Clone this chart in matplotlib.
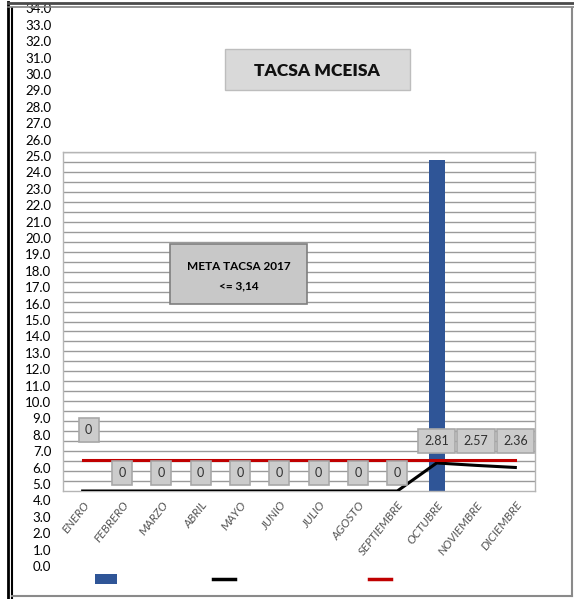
import matplotlib
matplotlib.use("Agg")
import matplotlib.pyplot as plt
from matplotlib.patches import Rectangle, Patch
from matplotlib.lines import Line2D
import numpy as np

# ---------------- data ----------------
months = ["ENERO", "FEBRERO", "MARZO", "ABRIL", "MAYO", "JUNIO", "JULIO",
          "AGOSTO", "SEPTIEMBRE", "OCTUBRE", "NOVIEMBRE", "DICIEMBRE"]
monthly_tacsa = [0, 0, 0, 0, 0, 0, 0, 0, 0, 33.2, 0, 0]          # blue bars
accum_tacsa = [0, 0, 0, 0, 0, 0, 0, 0, 0, 2.81, 2.57, 2.36]       # black line
meta = [3.14] * 12                                                # red line
label_texts = ["0", "0", "0", "0", "0", "0", "0", "0", "0", "2.81", "2.57", "2.36"]
ytick_values = np.arange(0, 35, 1)
title = "TACSA MCEISA"
meta_text = "META TACSA 2017\n<= 3,14"

# ---------------- layout ----------------
W, H = 574, 599
fig = plt.figure(figsize=(W / 100, H / 100), dpi=100)
fig.patch.set_facecolor("white")
FONT = ["Lato", "DejaVu Sans"]


def fx(px):
    return px / W


def fy(py):
    return 1 - py / H


# main plot area
L, R, T, B = 63, 535, 152, 491
ax = fig.add_axes([fx(L), fy(B), fx(R) - fx(L), fy(T) - fy(B)])
x = np.arange(len(months))
ax.set_xlim(-0.5, len(months) - 0.5)
ax.set_ylim(0, 34)
for v in ytick_values[1:]:
    ax.axhline(v, color="#9a9a9a", lw=1, zorder=0)
for s in ax.spines.values():
    s.set_color("#b5b5b5")
    s.set_linewidth(1)
ax.set_yticks([])

ax.bar(x, monthly_tacsa, width=0.41, color="#2F5597", zorder=2)
ax.plot(x, accum_tacsa, color="black", lw=2.2, zorder=3)
ax.plot(x, meta, color="#C00000", lw=2.2, zorder=3)

# data labels (pixel offsets from the line point)
label_offsets = [(6, 61)] + [(0, 18)] * 8 + [(0, 22), (0, 24.5), (0, 26.5)]
for i, (t, off) in enumerate(zip(label_texts, label_offsets)):
    ax.annotate(t, (x[i], accum_tacsa[i]), xytext=off, textcoords="offset pixels",
                ha="center", va="center", fontsize=9, color="#303030",
                family=FONT, zorder=5,
                bbox=dict(boxstyle="square,pad=0.5", fc="#cccccc", ec="#a8a8a8", lw=1.2))

ax.set_xticks(x)
ax.set_xticklabels(months, rotation=52, ha="right", rotation_mode="anchor",
                   fontsize=8.5, color="#555555", fontstyle="italic", family=FONT)
ax.tick_params(axis="x", length=0, pad=6)

# misplaced value axis column (as in the original)
ax2 = fig.add_axes([fx(54), fy(566), 0.001, fy(8.4) - fy(566)])
ax2.set_ylim(0, 34)
ax2.set_yticks(ytick_values)
ax2.set_yticklabels([f"{v:.1f}" for v in ytick_values], fontsize=9.5, family=FONT)
ax2.tick_params(axis="y", length=0, pad=2)
ax2.set_xticks([])
for s in ax2.spines.values():
    s.set_visible(False)
ax2.patch.set_alpha(0)

# title box
fig.add_artist(Rectangle((fx(225), fy(90)), fx(410) - fx(225), fy(49) - fy(90),
                         transform=fig.transFigure, fc="#d9d9d9", ec="#bdbdbd", lw=1))
fig.text(fx(317), fy(71), title, ha="center", va="center", fontsize=12.5,
         fontweight="heavy", family=FONT, color="#111111")

# meta box
fig.add_artist(Rectangle((fx(170), fy(304)), fx(307) - fx(170), fy(244) - fy(304),
                         transform=fig.transFigure, fc="#c8c8c8", ec="#7f7f7f", lw=1.2,
                         zorder=4))
fig.text(fx(238.5), fy(276), meta_text, ha="center", va="center", fontsize=8.5,
         fontweight="bold", family=FONT, linespacing=1.9, zorder=5)

# legend (no text)
handles = [Patch(fc="#2F5597", ec="none"),
           Line2D([], [], color="black", lw=2.5),
           Line2D([], [], color="#C00000", lw=2.5)]
centers = [103, 221, 377]
for h, cx in zip(handles, centers):
    fig.legend([h], [""], loc="center", bbox_to_anchor=(fx(cx + 3), fy(580)),
               frameon=False, handlelength=1.6, handletextpad=0, borderpad=0)

# outer frame
fig.add_artist(Line2D([fx(8), fx(8)], [fy(2), fy(599)], color="black", lw=2, transform=fig.transFigure))
fig.add_artist(Line2D([fx(11.5), fx(11.5)], [fy(8), fy(599)], color="black", lw=1.5, transform=fig.transFigure))
fig.add_artist(Line2D([fx(8), fx(574)], [fy(3), fy(3)], color="#4a4a4a", lw=2, transform=fig.transFigure))
fig.add_artist(Line2D([fx(8), fx(574)], [fy(7), fy(7)], color="#808080", lw=1.2, transform=fig.transFigure))
fig.add_artist(Line2D([fx(571.5), fx(571.5)], [fy(8), fy(596)], color="#8a8a8a", lw=1.5, transform=fig.transFigure))
fig.add_artist(Line2D([fx(12), fx(572)], [fy(596), fy(596)], color="#8a8a8a", lw=1.5, transform=fig.transFigure))

fig.savefig("out.png", dpi=100)
